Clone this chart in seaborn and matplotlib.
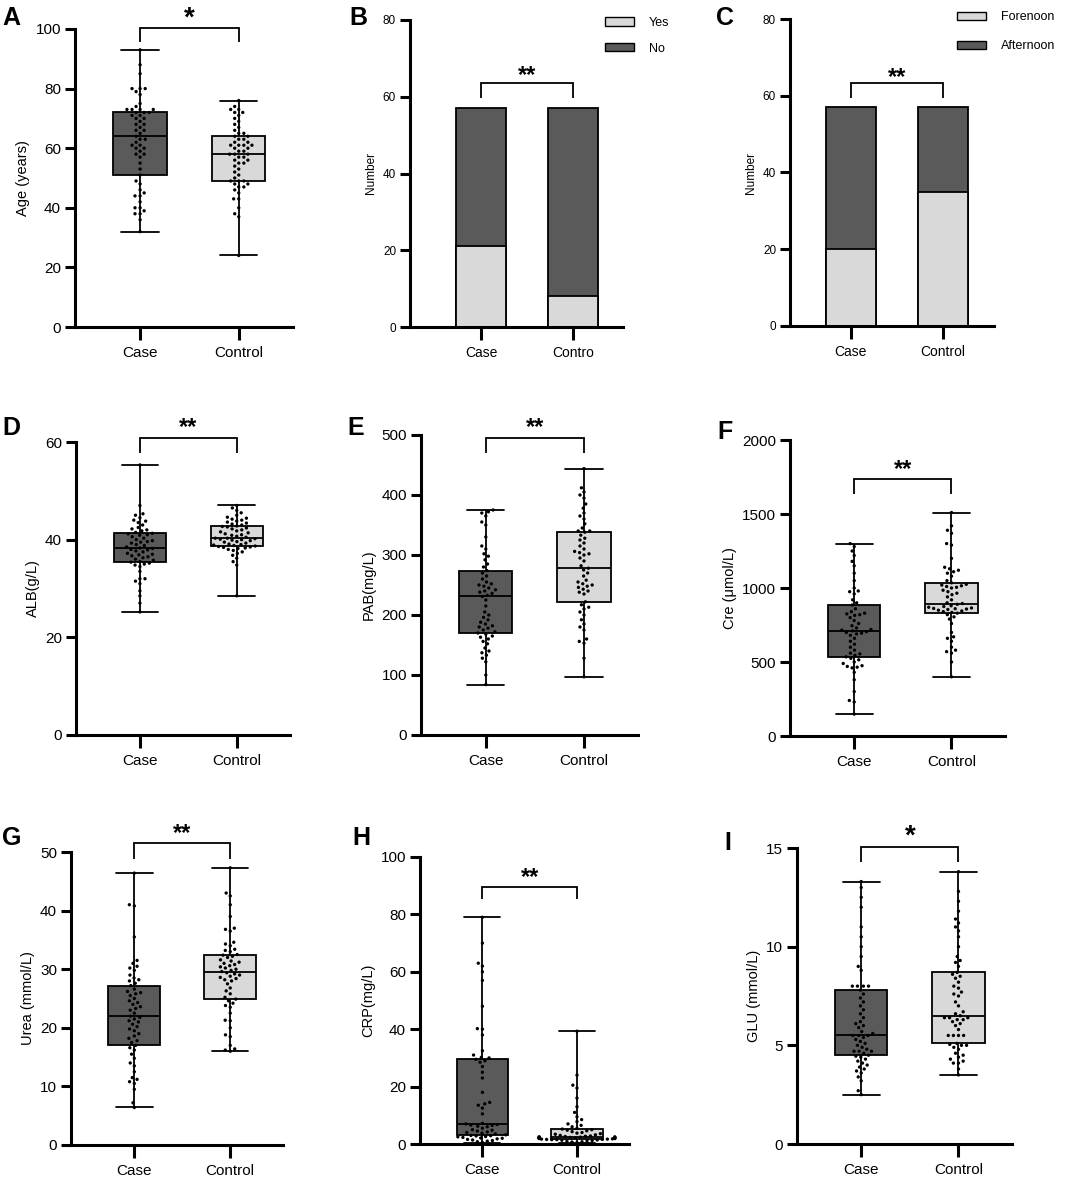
import matplotlib
matplotlib.use("Agg")
import matplotlib.pyplot as plt
from matplotlib.patches import Patch
from matplotlib.collections import PathCollection
from matplotlib.transforms import ScaledTranslation
import seaborn as sns
import pandas as pd

# ---------------- data ----------------
GROUPS = ["Case", "Control"]
GROUPS_B = ["Case", "Contro"]

age_case = [32, 36, 38, 38, 39, 40, 40, 42, 44, 44, 45, 46, 48, 49, 51, 53, 55, 57, 58, 58,
            59, 60, 60, 61, 61, 62, 63, 63, 64, 65, 66, 66, 67, 68, 68, 69, 70, 70, 71, 71,
            72, 72, 72, 73, 73, 73, 73, 74, 75, 78, 79, 80, 80, 80, 85, 88, 93]
age_control = [24, 37, 38, 40, 43, 43, 45, 46, 47, 47, 48, 48, 49, 49, 49, 50, 51, 52, 53, 54,
               55, 55, 56, 56, 57, 57, 58, 58, 58, 59, 59, 60, 60, 61, 61, 61, 61, 62, 62, 63,
               63, 64, 64, 65, 65, 66, 67, 68, 69, 70, 71, 72, 72, 73, 73, 74, 76]

smoking_yes = [21, 8]
smoking_no = [36, 49]

forenoon = [20, 35]
afternoon = [37, 22]

alb_case = [25.2, 27, 28.5, 29.5, 31, 31.5, 32, 32, 33.5, 34.5, 34.8, 35, 35.2, 35.4, 35.5,
            35.8, 36, 36.3, 36.5, 36.7, 36.9, 37, 37.2, 37.5, 37.7, 37.9, 38, 38.2, 38.3, 38.5,
            38.8, 39, 39.3, 39.5, 39.6, 39.8, 40, 40.3, 40.6, 40.9, 41, 41.2, 41.3, 41.5, 41.8,
            42, 42.2, 42.5, 43, 43.5, 43.8, 44, 44.5, 45, 45.3, 47, 55.3]
alb_control = [28.5, 34.8, 35.5, 36.2, 36.8, 37.2, 37.5, 37.8, 38, 38.2, 38.3, 38.4, 38.5, 38.6,
               38.7, 38.8, 38.9, 39, 39.1, 39.3, 39.5, 39.6, 39.8, 39.9, 40, 40.1, 40.2, 40.3,
               40.3, 40.5, 40.7, 40.9, 41, 41.2, 41.4, 41.6, 41.8, 42, 42.2, 42.4, 42.6, 42.7,
               42.8, 43, 43.2, 43.4, 43.6, 43.8, 44, 44.2, 44.4, 44.6, 45, 45.5, 46, 46.5, 47]

pab_case = [84, 100, 122, 128, 133, 137, 140, 145, 152, 156, 160, 163, 165, 168, 170, 172, 175,
            178, 180, 182, 185, 188, 192, 196, 200, 205, 215, 225, 231, 233, 236, 238, 240, 242,
            245, 248, 250, 252, 255, 260, 265, 270, 274, 280, 285, 292, 298, 302, 310, 315, 330,
            350, 355, 365, 370, 372, 375]
pab_control = [97, 128, 153, 156, 160, 175, 180, 185, 192, 200, 205, 210, 213, 217, 222, 235,
               238, 240, 243, 246, 248, 250, 252, 255, 258, 265, 270, 275, 278, 282, 290, 295,
               300, 302, 304, 306, 310, 315, 320, 325, 328, 333, 338, 340, 340, 345, 352, 360,
               365, 370, 378, 385, 395, 400, 405, 412, 444]

cre_case = [148, 230, 240, 300, 380, 430, 460, 465, 470, 475, 490, 500, 515, 525, 535, 545, 555,
            560, 580, 600, 620, 640, 660, 680, 690, 695, 700, 705, 710, 715, 720, 730, 745, 760,
            780, 800, 815, 820, 825, 830, 840, 860, 885, 900, 920, 960, 975, 980, 1000, 1050,
            1100, 1150, 1180, 1220, 1250, 1280, 1300]
cre_control = [400, 500, 560, 570, 580, 600, 640, 660, 670, 700, 760, 790, 805, 820, 830, 835,
               840, 845, 850, 855, 858, 860, 862, 865, 870, 875, 880, 890, 895, 900, 920, 940,
               955, 965, 975, 985, 1000, 1005, 1010, 1015, 1020, 1025, 1035, 1050, 1080, 1100,
               1110, 1120, 1130, 1140, 1200, 1290, 1300, 1370, 1390, 1420, 1510]

urea_case = [6.4, 7.2, 9.5, 10.5, 10.8, 11.2, 11.5, 12.5, 13.5, 14, 14.8, 15.5, 16.2, 16.6, 17,
             17.5, 17.8, 18.2, 18.6, 19, 19.5, 19.8, 20.2, 20.6, 21, 21.2, 21.5, 21.8, 22, 22.5,
             23, 23.3, 23.6, 24, 24.3, 24.6, 25, 25.5, 25.8, 26, 26.2, 26.6, 27.2, 27.6, 28,
             28.2, 28.5, 29, 29.8, 30.2, 30.5, 31, 31.5, 35.5, 40.8, 41, 46.4]
urea_control = [16, 16.2, 16.4, 17, 18.5, 18.8, 20, 21.2, 21.3, 22.5, 23.5, 23.8, 24.2, 24.6,
                24.9, 25.2, 25.8, 26.3, 26.8, 27.5, 28, 28.2, 28.4, 28.6, 28.8, 29, 29.2, 29.4,
                29.6, 29.8, 30, 30.2, 30.4, 30.6, 30.8, 31, 31.2, 31.4, 31.6, 32, 32.2, 32.4,
                32.5, 33, 33.2, 33.4, 34, 34.3, 34.6, 36.5, 36.8, 37, 39, 41, 42.5, 43, 47.3]

crp_case = [0.5, 0.8, 1, 1.2, 1.4, 1.6, 1.8, 2, 2.1, 2.3, 2.5, 2.6, 2.8, 2.9, 3, 3.2, 3.5, 3.8,
            4, 4.2, 4.5, 4.8, 5, 5.5, 6, 6.2, 6.5, 6.6, 6.8, 7, 7.2, 10.5, 12.5, 13.5, 14, 14.5,
            18, 23, 25, 27, 28.5, 29, 29.5, 30, 30.2, 31, 32.5, 38, 40, 40.2, 48, 57, 60, 62,
            63, 70, 79]
crp_control = [0.5, 0.7, 0.8, 1, 1.1, 1.2, 1.3, 1.4, 1.5, 1.5, 1.6, 1.6, 1.7, 1.7, 1.8, 1.9,
               1.9, 2, 2, 2.1, 2.1, 2.2, 2.2, 2.3, 2.3, 2.4, 2.4, 2.5, 2.5, 2.6, 2.7, 2.8, 3,
               3.2, 3.4, 3.6, 3.8, 4, 4.3, 4.6, 4.8, 5, 5.2, 5.5, 6, 6.5, 7, 7.8, 8.5, 9.5, 11,
               13, 16, 19.5, 20.5, 24, 39.3]

glu_case = [2.5, 2.7, 3.2, 3.4, 3.6, 3.7, 3.8, 3.9, 4, 4.1, 4.2, 4.3, 4.4, 4.45, 4.5, 4.6, 4.7,
            4.7, 4.7, 4.8, 4.9, 5, 5.1, 5.2, 5.3, 5.4, 5.5, 5.5, 5.5, 5.6, 5.7, 5.9, 6, 6.1, 6.2,
            6.4, 6.6, 6.8, 7, 7.2, 7.4, 7.6, 7.8, 8, 8, 8, 8, 8.8, 9, 9.5, 10, 10.5, 11, 12,
            12.5, 13, 13.3]
glu_control = [3.5, 3.8, 4.1, 4.1, 4.2, 4.3, 4.4, 4.5, 4.6, 4.8, 4.9, 5, 5, 5.05, 5.1, 5.5, 5.5,
               5.5, 5.5, 5.8, 6, 6.1, 6.2, 6.3, 6.3, 6.4, 6.4, 6.4, 6.5, 6.6, 6.7, 7, 7.2, 7.5,
               7.6, 7.7, 7.9, 8, 8.2, 8.4, 8.5, 8.6, 8.7, 9, 9.2, 9.3, 9.5, 10, 10.5, 10.8, 11,
               11.2, 11.4, 11.8, 12.3, 12.8, 13.8]

# ---------------- style ----------------
sns.set_style("ticks")
plt.rcParams["font.family"] = ["Liberation Sans", "DejaVu Sans"]
for key in ["axes.edgecolor", "xtick.color", "ytick.color", "text.color",
            "axes.labelcolor", "xtick.labelcolor", "ytick.labelcolor"]:
    plt.rcParams[key] = "black"

DARK = "#5a5a5a"
LIGHT = "#d9d9d9"
PALETTE = {"Case": DARK, "Control": LIGHT}

W, H = 1065, 1181
fig = plt.figure(figsize=(W / 100, H / 100), dpi=100)


def add_ax(l, r, top, bottom):
    return fig.add_axes([l / W, 1 - bottom / H, (r - l) / W, (bottom - top) / H])


def style(ax, ylim, yticks, ylabel, fs=11, xfs=11, lfs=10.5, xlim=(-0.66, 1.55)):
    ax.set_xlim(*xlim)
    ax.set_ylim(*ylim)
    ax.set_yticks(yticks)
    for s in ["top", "right"]:
        ax.spines[s].set_visible(False)
    for s in ["left", "bottom"]:
        ax.spines[s].set_linewidth(2.2)
    ax.tick_params(axis="y", length=7, width=2.2, labelsize=fs, pad=3)
    ax.tick_params(axis="x", length=9, width=2.2, labelsize=xfs, pad=5)
    ax.set_xlabel("")
    ax.set_ylabel(ylabel, fontsize=lfs, labelpad=4)


def bracket(ax, top, end, star_y, stars, fs=17):
    ax.plot([0, 0, 1, 1], [end, top, top, end], color="black", lw=1.3,
            clip_on=False, solid_capstyle="butt", solid_joinstyle="miter")
    off = ScaledTranslation(0, -0.23 * fs / 72, fig.dpi_scale_trans)
    ax.text(0.5, star_y, stars, ha="center", va="center", fontsize=fs,
            fontweight="bold", clip_on=False, transform=ax.transData + off)


def box_panel(ax, case, control, ylim, yticks, ylabel):
    df = pd.DataFrame({"group": ["Case"] * len(case) + ["Control"] * len(control),
                       "value": list(case) + list(control)})
    sns.boxplot(data=df, x="group", y="value", hue="group", order=GROUPS,
                hue_order=GROUPS, palette=PALETTE, saturation=1, width=0.54,
                whis=(0, 100), showfliers=False, linecolor="black", linewidth=1.3,
                legend=False, capwidths=0.38, ax=ax)
    sns.swarmplot(data=df, x="group", y="value", order=GROUPS, color="black",
                  size=2.4, linewidth=1.1, ax=ax)
    for c in ax.collections:
        if isinstance(c, PathCollection):
            c.set_edgecolor("none")
            c.set_zorder(5)
    style(ax, ylim, yticks, ylabel)


def bar_panel(ax, cats, bottom_vals, top_vals, labels, xlim):
    total = [b + t for b, t in zip(bottom_vals, top_vals)]
    sns.barplot(x=cats, y=total, color=DARK, saturation=1, width=0.54,
                edgecolor="black", linewidth=1.3, ax=ax)
    sns.barplot(x=cats, y=bottom_vals, color=LIGHT, saturation=1, width=0.54,
                edgecolor="black", linewidth=1.3, ax=ax)
    style(ax, (0, 80), [0, 20, 40, 60, 80], "Number", fs=8.5, xfs=10, lfs=8.5, xlim=xlim)
    handles = [Patch(facecolor=LIGHT, edgecolor="black", linewidth=1.0, label=labels[0]),
               Patch(facecolor=DARK, edgecolor="black", linewidth=1.0, label=labels[1])]
    return handles


# ---------------- row 1 ----------------
axA = add_ax(75, 293, 29, 327)
box_panel(axA, age_case, age_control, (0, 100), [0, 20, 40, 60, 80, 100], "Age (years)")
bracket(axA, 100.2, 95.7, 105.5, "*", fs=20)

axB = add_ax(410, 623, 20, 327)
hB = bar_panel(axB, GROUPS_B, smoking_yes, smoking_no, ["Yes", "No"], (-0.77, 1.54))
axB.legend(handles=hB, loc="upper left", bbox_to_anchor=(0.915, 1.01), frameon=False,
           fontsize=9, handlelength=2.3, handleheight=0.65, handletextpad=1.2,
           labelspacing=1.1, borderpad=0, borderaxespad=0)
bracket(axB, 63.6, 59.7, 67.0, "**")

axC = add_ax(790, 994, 19, 326)
hC = bar_panel(axC, GROUPS, forenoon, afternoon, ["Forenoon", "Afternoon"], (-0.66, 1.55))
axC.legend(handles=hC, loc="upper left", bbox_to_anchor=(0.82, 1.025), frameon=False,
           fontsize=9, handlelength=2.3, handleheight=0.65, handletextpad=1.2,
           labelspacing=1.35, borderpad=0, borderaxespad=0)
bracket(axC, 63.2, 59.3, 66.2, "**")

# ---------------- row 2 ----------------
axD = add_ax(76, 290, 442, 735)
box_panel(axD, alb_case, alb_control, (0, 60), [0, 20, 40, 60], "ALB(g/L)")
bracket(axD, 60.8, 57.8, 64.0, "**")

axE = add_ax(421, 638, 435, 735)
box_panel(axE, pab_case, pab_control, (0, 500), [0, 100, 200, 300, 400, 500], "PAB(mg/L)")
bracket(axE, 494.5, 469.5, 522, "**")

axF = add_ax(790, 1005, 440, 736)
box_panel(axF, cre_case, cre_control, (0, 2000), [0, 500, 1000, 1500, 2000], "Cre (μmol/L)")
bracket(axF, 1737, 1635, 1838, "**")

# ---------------- row 3 ----------------
axG = add_ax(71, 283, 852, 1145)
box_panel(axG, urea_case, urea_control, (0, 50), [0, 10, 20, 30, 40, 50], "Urea (mmol/L)")
bracket(axG, 51.5, 48.8, 54.1, "**")

axH = add_ax(420, 629, 857, 1144)
box_panel(axH, crp_case, crp_control, (0, 100), [0, 20, 40, 60, 80, 100], "CRP(mg/L)")
bracket(axH, 89.5, 85.4, 94.8, "**")

axI = add_ax(797, 1012, 848, 1144)
box_panel(axI, glu_case, glu_control, (0, 15), [0, 5, 10, 15], "GLU (mmol/L)")
bracket(axI, 15.05, 14.3, 15.9, "*", fs=20)

# ---------------- panel letters ----------------
letters = [("A", 2, 6), ("B", 349, 6), ("C", 716, 6),
           ("D", 2, 416), ("E", 347, 416), ("F", 717, 420),
           ("G", 2, 826), ("H", 352, 826), ("I", 724, 831)]
for txt, px, py in letters:
    fig.text(px / W, 1 - py / H, txt, ha="left", va="top", fontsize=18,
             fontweight="bold", color="black")

fig.savefig("out.png", dpi=100)
